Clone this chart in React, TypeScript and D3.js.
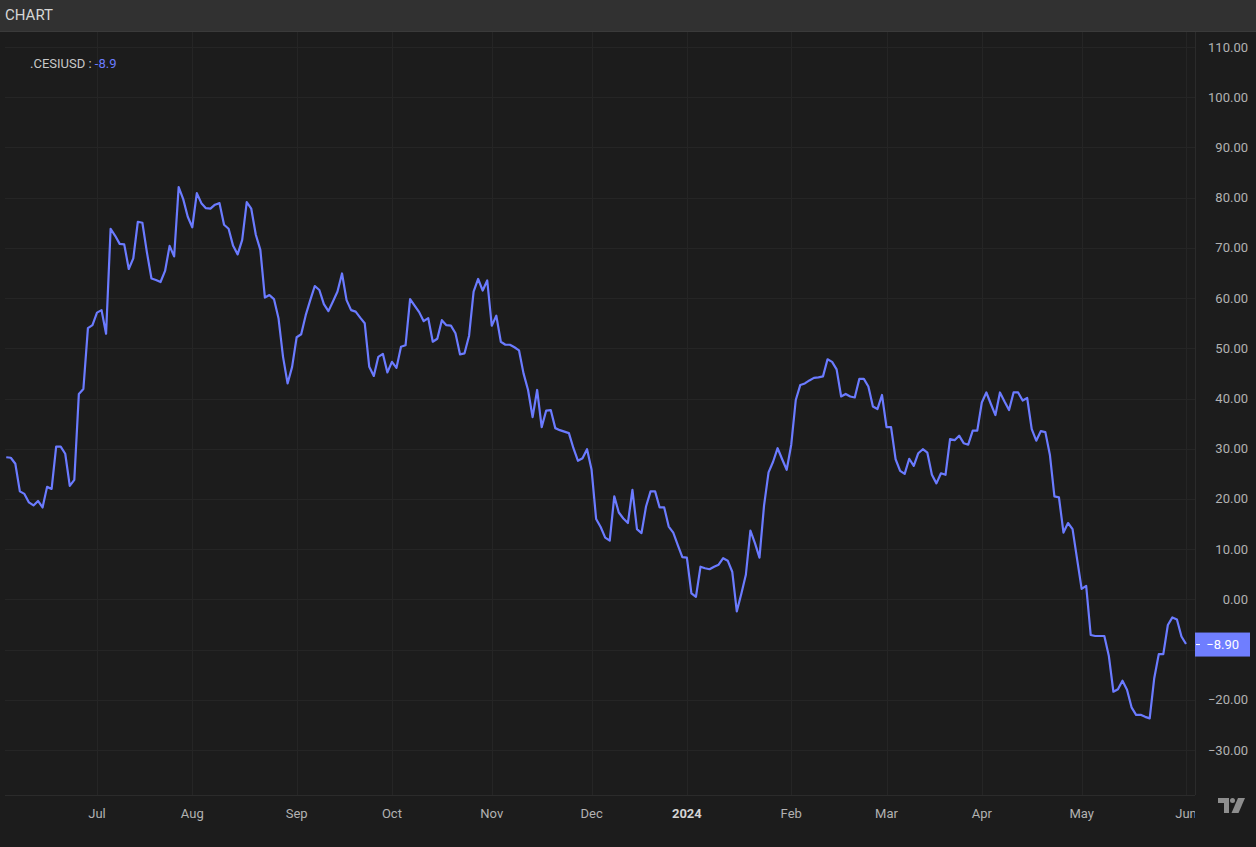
import React, { useEffect } from "react";
import * as d3 from "d3";

const W = 1256;
const H = 847;

const SERIES_NAME = ".CESIUSD";
const START_DATE = "2023-06-05";

// CESIUSD daily (weekday) values
const values: number[] = [
  28.3, 28.2, 27.0, 21.5, 21.0, 19.3, 18.7, 19.6, 18.3, 22.4,
  22.0, 30.4, 30.4, 29.0, 22.6, 23.8, 40.9, 41.9, 54.0, 54.6,
  57.1, 57.6, 52.9, 73.8, 72.4, 70.8, 70.7, 65.8, 67.9, 75.2,
  75.0, 69.1, 63.9, 63.6, 63.2, 65.4, 70.4, 68.3, 82.1, 79.7,
  76.2, 74.1, 80.9, 78.9, 77.9, 77.8, 78.6, 78.9, 74.6, 73.8,
  70.4, 68.7, 71.6, 79.1, 77.8, 72.6, 69.6, 60.1, 60.6, 59.8,
  56.0, 48.3, 43.0, 46.3, 52.2, 52.8, 56.6, 59.6, 62.4, 61.6,
  58.8, 57.4, 59.3, 61.3, 64.9, 59.6, 57.6, 57.3, 56.1, 55.0,
  46.3, 44.5, 48.3, 48.9, 45.2, 47.3, 46.1, 50.3, 50.6, 59.8,
  58.5, 57.2, 55.4, 56.0, 51.3, 51.9, 55.6, 54.6, 54.5, 53.0,
  48.8, 49.0, 52.5, 61.3, 63.8, 61.5, 63.5, 54.5, 56.5, 51.3,
  50.7, 50.7, 50.2, 49.6, 45.0, 41.7, 36.3, 41.7, 34.3, 37.6,
  37.7, 34.1, 33.7, 33.4, 33.1, 30.1, 27.6, 28.1, 29.9, 25.8,
  16.0, 14.4, 12.3, 11.7, 20.5, 17.3, 16.1, 15.2, 21.8, 14.0,
  13.2, 18.5, 21.5, 21.5, 18.3, 18.3, 14.5, 13.3, 10.8, 8.4,
  8.3, 1.2, 0.5, 6.5, 6.2, 6.0, 6.5, 6.9, 8.2, 7.7,
  5.5, -2.4, 1.1, 4.9, 13.7, 11.2, 8.3, 18.6, 25.3, 27.4,
  30.1, 27.9, 25.8, 30.8, 39.7, 42.7, 43.0, 43.6, 44.1, 44.2,
  44.4, 47.8, 47.3, 45.8, 40.4, 40.9, 40.4, 40.2, 43.9, 43.9,
  42.4, 38.4, 37.9, 40.7, 34.3, 34.3, 27.9, 25.6, 25.0, 28.0,
  26.6, 29.1, 29.9, 29.2, 24.8, 23.1, 25.1, 24.8, 31.9, 31.7,
  32.6, 31.1, 30.8, 33.6, 33.6, 39.2, 41.2, 38.9, 36.7, 41.2,
  39.4, 37.7, 41.2, 41.2, 39.6, 40.1, 33.9, 31.6, 33.5, 33.3,
  28.8, 20.5, 20.3, 13.3, 15.2, 14.0, 8.0, 2.1, 2.7, -7.1,
  -7.3, -7.3, -7.3, -11.3, -18.4, -17.9, -16.2, -18.0, -21.5, -23.0,
  -23.0, -23.4, -23.7, -15.7, -10.9, -10.9, -5.1, -3.6, -4.0, -7.4,
  -8.9,
];

const yTicks: number[] = [-30, -20, -10, 0, 10, 20, 30, 40, 50, 60, 70, 80, 90, 100, 110];
const monthLabels: string[] = ["Jul", "Aug", "Sep", "Oct", "Nov", "Dec", "2024", "Feb", "Mar", "Apr", "May", "Jun"];
const boldLabels: string[] = ["2024"];

// weekday calendar for the bars
function buildDates(start: string, n: number): Date[] {
  const out: Date[] = [];
  const d = new Date(start + "T00:00:00Z");
  while (out.length < n) {
    const wd = d.getUTCDay();
    if (wd !== 0 && wd !== 6) out.push(new Date(d.getTime()));
    d.setUTCDate(d.getUTCDate() + 1);
  }
  return out;
}

const dates = buildDates(START_DATE, values.length);

// first bar of each month (skip the first partial month)
const monthStarts: number[] = [];
for (let i = 1; i < dates.length; i++) {
  if (dates[i].getUTCMonth() !== dates[i - 1].getUTCMonth()) monthStarts.push(i);
}

const PLOT_L = 5;
const PLOT_R = 1195;
const PLOT_T = 32;
const PLOT_B = 795;

const x = d3.scaleLinear().domain([0, values.length - 1]).range([6.25, 1186]);
const y = d3.scaleLinear().domain([-30, 110]).range([750, 47]);

const fmt = (v: number) => (v < 0 ? "\u2212" + Math.abs(v).toFixed(2) : v.toFixed(2));

const LINE = "#6b7bff";
const FONT = "Roboto, 'Noto Sans', sans-serif";

export default function App() {
  useEffect(() => {
    document.body.style.margin = "0";
    document.body.style.background = "#1c1c1c";
  }, []);

  const linePath = d3
    .line<number>()
    .x((_, i) => x(i))
    .y((v) => y(v))(values) as string;

  const last = values[values.length - 1];
  const lastY = y(last);

  return (
    <div style={{ position: "fixed", left: 0, top: 0, width: W, height: H }}>
      <svg width={W} height={H} style={{ display: "block" }}>
        <defs>
          <clipPath id="xaxis-clip">
            <rect x={0} y={PLOT_B} width={PLOT_R} height={H - PLOT_B} />
          </clipPath>
          <clipPath id="plot-clip">
            <rect x={0} y={PLOT_T} width={PLOT_R} height={PLOT_B - PLOT_T} />
          </clipPath>
        </defs>
        <rect x={0} y={0} width={W} height={H} fill="#1c1c1c" />
        {/* header */}
        <rect x={0} y={0} width={W} height={31} fill="#313131" />
        <line x1={0} x2={W} y1={31.5} y2={31.5} stroke="#3a3a3a" />
        <text x={5} y={20} fill="#d6d6d6" fontSize={15} fontFamily={FONT}>
          CHART
        </text>

        {/* grid */}
        <g stroke="#252525" strokeWidth={1}>
          {yTicks.map((t) => (
            <line key={"h" + t} x1={PLOT_L} x2={PLOT_R} y1={Math.round(y(t)) + 0.5} y2={Math.round(y(t)) + 0.5} />
          ))}
          {monthStarts.map((i) => (
            <line key={"v" + i} x1={Math.round(x(i)) + 0.5} x2={Math.round(x(i)) + 0.5} y1={PLOT_T} y2={PLOT_B} />
          ))}
        </g>
        {/* plot borders */}
        <line x1={PLOT_L} x2={PLOT_R} y1={PLOT_B + 0.5} y2={PLOT_B + 0.5} stroke="#2b2b2b" />
        <line x1={PLOT_R + 0.5} x2={PLOT_R + 0.5} y1={PLOT_T} y2={PLOT_B} stroke="#2b2b2b" />

        {/* series line */}
        <g clipPath="url(#plot-clip)">
          <path d={linePath} fill="none" stroke={LINE} strokeWidth={2.2} strokeLinejoin="round" />
        </g>

        {/* y axis labels (hidden where the last-value label sits) */}
        <g fontFamily={FONT} fontSize={13} fill="#b2b2b2" textAnchor="end">
          {yTicks
            .filter((t) => Math.abs(y(t) - lastY) > 14)
            .map((t) => (
              <text key={"yl" + t} x={1248} y={y(t)} dy="0.35em">
                {fmt(t)}
              </text>
            ))}
        </g>

        {/* x axis labels */}
        <g fontFamily={FONT} fontSize={13} textAnchor="middle" clipPath="url(#xaxis-clip)">
          {monthStarts.map((i, k) => {
            const label = monthLabels[k];
            const bold = boldLabels.includes(label);
            return (
              <text
                key={"xl" + i}
                x={x(i)}
                y={818}
                fill={bold ? "#d4d4d4" : "#b2b2b2"}
                fontWeight={bold ? 700 : 400}
              >
                {label}
              </text>
            );
          })}
        </g>

        {/* legend */}
        <text x={30} y={67.5} fontFamily={FONT} fontSize={13}>
          <tspan fill="#c8c8c8">{SERIES_NAME} : </tspan>
          <tspan fill={LINE}>{String(last)}</tspan>
        </text>

        {/* last value label */}
        <rect x={1195} y={lastY - 11.5} width={55} height={24} fill="#6f7eff" />
        <line x1={1196} x2={1200} y1={lastY + 0.5} y2={lastY + 0.5} stroke="#ffffff" strokeWidth={1} />
        <text x={1239} y={lastY} dy="0.35em" textAnchor="end" fontFamily={FONT} fontSize={13} fill="#ffffff">
          {fmt(last)}
        </text>

        {/* watermark logo */}
        <g fill="#8e8e8e">
          <path d="M1218,798 H1229 V813 H1224 V803 H1218 Z" />
          <circle cx={1232.5} cy={800.5} r={2.5} />
          <path d="M1238,798 H1245 L1238.5,813 H1231.5 Z" />
        </g>
      </svg>
    </div>
  );
}
